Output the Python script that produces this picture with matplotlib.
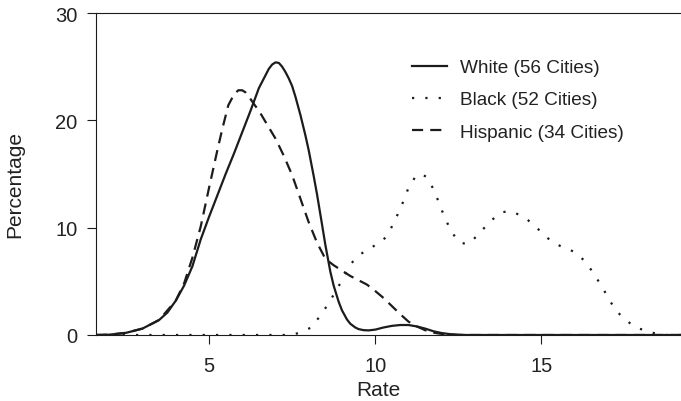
"""Rate distributions by group — White / Black / Hispanic city counts."""

import matplotlib
matplotlib.use("Agg")
import matplotlib.pyplot as plt

plt.rcParams["font.family"] = ["Liberation Sans", "DejaVu Sans"]

# ── Data ──────────────────────────────────────────────────────────────────────

white_x = [1.6, 2.0, 2.5, 3.0, 3.5, 3.75, 4.0, 4.25, 4.5, 4.75, 5.0, 5.25,
           5.5, 5.75, 6.0, 6.25, 6.5, 6.65, 6.8, 6.9, 7.0, 7.1, 7.2, 7.3,
           7.4, 7.5, 7.6, 7.75, 7.9, 8.0, 8.15, 8.25, 8.4, 8.5, 8.65, 8.75,
           8.9, 9.0, 9.15, 9.25, 9.4, 9.5, 9.65, 9.8, 10.0, 10.25, 10.5,
           10.75, 11.0, 11.25, 11.5, 11.75, 12.0, 12.25, 12.5, 12.75, 19.2]
white_y = [0.0, 0.03, 0.2, 0.6, 1.4, 2.1, 3.2, 4.6, 6.4, 8.9, 11.0, 13.0,
           15.0, 16.9, 18.9, 20.9, 23.0, 23.9, 24.8, 25.2, 25.4, 25.35, 25.0,
           24.5, 23.9, 23.2, 22.2, 20.5, 18.6, 17.2, 14.8, 13.1, 10.3, 8.4,
           5.9, 4.6, 3.1, 2.3, 1.45, 1.05, 0.7, 0.55, 0.45, 0.43, 0.5, 0.7,
           0.85, 0.93, 0.93, 0.8, 0.6, 0.35, 0.18, 0.08, 0.03, 0.0, 0.0]

black_x = [1.6, 7.5, 7.7, 8.08, 8.36, 8.61, 9.03, 9.23, 9.51, 9.89, 10.26,
           10.47, 10.67, 10.84, 11.0, 11.22, 11.4, 11.55, 11.77, 11.92, 12.07,
           12.25, 12.49, 12.7, 12.86, 13.17, 13.46, 13.79, 14.0, 14.2, 14.56,
           14.89, 15.2, 15.56, 15.95, 16.27, 16.54, 16.76, 16.99, 17.21,
           17.49, 17.84, 18.24, 18.6, 19.2]
black_y = [0.0, 0.0, 0.2, 0.7, 1.85, 3.0, 5.25, 6.5, 7.45, 8.15, 8.9, 9.9,
           11.2, 12.4, 13.7, 14.8, 15.0, 14.7, 13.5, 12.3, 11.1, 9.9, 8.7,
           8.5, 8.6, 9.6, 10.6, 11.4, 11.55, 11.4, 10.8, 9.9, 9.0, 8.3, 7.8,
           7.0, 5.9, 4.8, 3.6, 2.4, 1.5, 0.7, 0.3, 0.0, 0.0]

hisp_x = [1.6, 2.0, 2.5, 3.0, 3.5, 4.0, 4.25, 4.5, 4.75, 5.0, 5.25, 5.4,
          5.58, 5.75, 5.88, 6.0, 6.1, 6.2, 6.38, 6.5, 6.75, 7.0, 7.25, 7.5,
          7.75, 8.0, 8.25, 8.5, 8.75, 9.0, 9.25, 9.5, 9.75, 10.0, 10.25,
          10.5, 10.75, 11.0, 11.25, 11.5, 11.75, 12.0, 12.25, 12.5, 19.2]
hisp_y = [0.0, 0.03, 0.2, 0.6, 1.4, 3.2, 4.8, 7.2, 10.1, 13.7, 17.2, 19.2,
          21.4, 22.4, 22.8, 22.8, 22.6, 22.2, 21.4, 20.9, 19.6, 18.3, 16.7,
          14.9, 12.7, 10.5, 8.6, 7.1, 6.5, 6.0, 5.5, 5.1, 4.7, 4.1, 3.45,
          2.7, 1.95, 1.25, 0.8, 0.45, 0.22, 0.1, 0.03, 0.0, 0.0]

labels = ["White (56 Cities)", "Black (52 Cities)", "Hispanic (34 Cities)"]
x_ticks = [5, 10, 15]
y_ticks = [0, 10, 20, 30]

INK = "#1c1c1c"
TXT = "#222222"


def main():
    fig = plt.figure(figsize=(6.81, 4.02), dpi=100)
    ax = fig.add_axes([96 / 681, 1 - 336 / 402, 1 - 96 / 681, (336 - 14) / 402])

    ax.plot(white_x, white_y, color=INK, lw=1.6, label=labels[0])
    ax.plot(black_x, black_y, color=INK, lw=1.6, linestyle=(0, (1, 5.0)),
            label=labels[1])
    ax.plot(hisp_x, hisp_y, color=INK, lw=1.6, linestyle=(0, (5.0, 3.2)),
            label=labels[2])

    ax.set_xlim(1.6, 19.2)
    ax.set_ylim(0, 30)
    ax.set_xticks(x_ticks)
    ax.set_yticks(y_ticks)
    ax.tick_params(axis="both", direction="out", length=6.5, width=0.8,
                   color=INK, labelsize=14.5, labelcolor=TXT)
    ax.tick_params(axis="x", pad=8.3)
    ax.tick_params(axis="y", pad=7)

    ax.spines["right"].set_visible(False)
    for side in ["left", "top", "bottom"]:
        ax.spines[side].set_linewidth(0.8)
        ax.spines[side].set_color(INK)

    ax.set_xlabel("Rate", fontsize=15, color=TXT)
    ax.set_ylabel("Percentage", fontsize=15, color=TXT)
    ax.xaxis.set_label_coords(0.483, -0.14)
    ax.yaxis.set_label_coords(-0.123, 0.469)

    ax.legend(loc="upper left", bbox_to_anchor=(412 / 681, 1 - 60 / 402),
              bbox_transform=fig.transFigure, frameon=False, fontsize=13.7,
              handlelength=1.85, handletextpad=0.68, labelspacing=0.78,
              borderpad=0, borderaxespad=0, labelcolor=TXT)

    fig.savefig("out.png", dpi=100)
    plt.close(fig)


if __name__ == "__main__":
    main()
